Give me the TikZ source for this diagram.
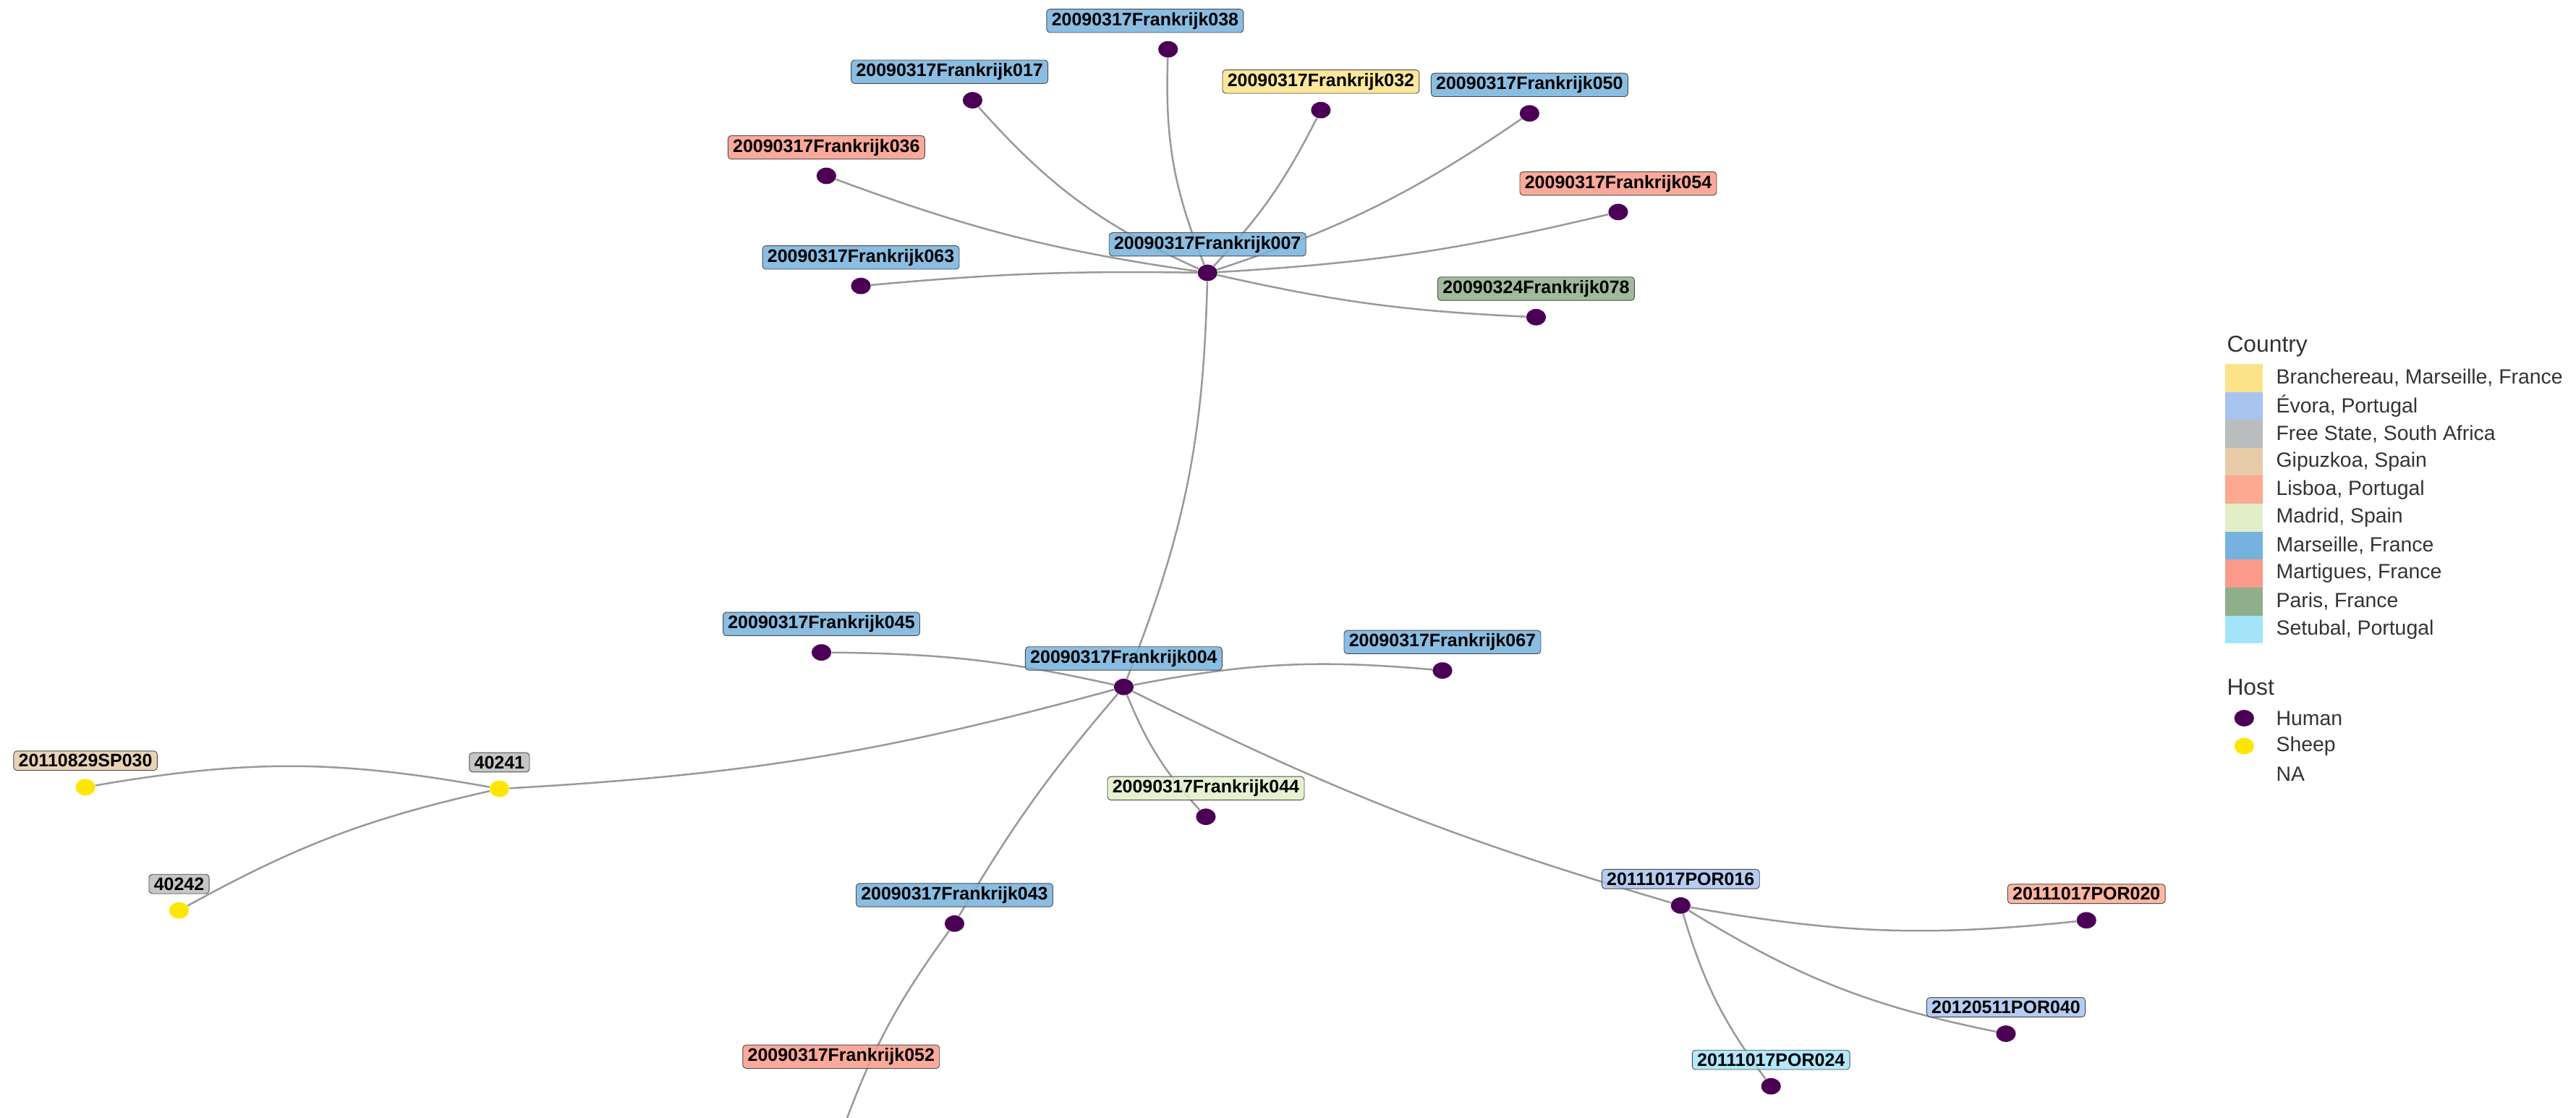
\documentclass[tikz,border=0pt]{standalone}
\usepackage{fontspec}
\setmainfont{Liberation Sans}
\usetikzlibrary{positioning,shapes.geometric}
\definecolor{cMars}{HTML}{75B2DD}
\definecolor{cMart}{HTML}{FA9A8A}
\definecolor{cLis}{HTML}{FCA990}
\definecolor{cBran}{HTML}{FCE38A}
\definecolor{cEvo}{HTML}{A8C4F0}
\definecolor{cFree}{HTML}{BBBCBE}
\definecolor{cGip}{HTML}{E6CBA8}
\definecolor{cMad}{HTML}{E2EEC8}
\definecolor{cPar}{HTML}{8FAF8A}
\definecolor{cSet}{HTML}{A3E4F9}
\definecolor{human}{HTML}{4B0055}
\definecolor{sheep}{HTML}{FFE600}
\tikzset{
	hum/.style={ellipse,fill=human,minimum width=12pt,minimum height=10pt,inner sep=0pt},
	shp/.style={ellipse,fill=sheep,minimum width=12pt,minimum height=10pt,inner sep=0pt},
	lab/.style={draw=black!70,fill=#1,fill opacity=0.85,text opacity=1,rounded corners=2pt,
		font=\bfseries\fontsize{11}{12}\selectfont,inner xsep=3pt,inner ysep=2pt,above=10pt},
	edge/.style={draw=black!40,line width=1.1pt},
	swatch/.style={fill=#1,minimum width=23pt,minimum height=17pt,inner sep=0pt},
	leg/.style={font=\fontsize{12.5}{13}\selectfont,anchor=west,text=black!80}
}
\begin{document}
\begin{tikzpicture}[x=1pt,y=-1pt]
\useasboundingbox (0,0) rectangle (1568,680);
\clip (0,0) rectangle (1568,680);

%Sommets
\node[hum] (n007) at (735,166) {};
\node[hum] (n038) at (711,30) {};
\node[hum] (n017) at (592,61) {};
\node[hum] (n032) at (804,67) {};
\node[hum] (n050) at (931,69) {};
\node[hum] (n036) at (503,107) {};
\node[hum] (n054) at (985,129) {};
\node[hum] (n063) at (524,174) {};
\node[hum] (n078) at (935,193) {};
\node[hum] (n004) at (684,418) {};
\node[hum] (n045) at (500,397) {};
\node[hum] (n067) at (878,408) {};
\node[hum] (n044) at (734,497) {};
\node[hum] (n043) at (581,562) {};
\coordinate (n052) at (512,690);
\node[shp] (n241) at (304,480) {};
\node[shp] (n030) at (52,479) {};
\node[shp] (n242) at (109,554) {};
\node[hum] (p016) at (1023,551) {};
\node[hum] (p020) at (1270,560) {};
\node[hum] (p040) at (1221,629) {};
\node[hum] (p024) at (1078,661) {};

%Aretes
\draw[edge] (n007) to[bend left=12] (n038);
\draw[edge] (n007) to[bend left=12] (n017);
\draw[edge] (n007) to[bend right=8] (n032);
\draw[edge] (n007) to[bend right=8] (n050);
\draw[edge] (n007) to[bend left=6] (n036);
\draw[edge] (n007) to[bend right=5] (n054);
\draw[edge] (n007) to[bend right=3] (n063);
\draw[edge] (n007) to[bend right=5] (n078);
\draw[edge] (n007) to[bend left=10] (n004);
\draw[edge] (n004) to[bend right=6] (n045);
\draw[edge] (n004) to[bend left=8] (n067);
\draw[edge] (n004) to[bend right=10] (n044);
\draw[edge] (n004) to[bend right=5] (n043);
\draw[edge] (n004) to[bend left=6] (n241);
\draw[edge] (n004) to[bend right=5] (p016);
\draw[edge] (n043) to[bend right=8] (n052);
\draw[edge] (n241) to[bend right=10] (n030);
\draw[edge] (n241) to[bend right=8] (n242);
\draw[edge] (p016) to[bend right=8] (p020);
\draw[edge] (p016) to[bend right=10] (p040);
\draw[edge] (p016) to[bend right=10] (p024);

%Etiquettes
\node[lab=cMars] at (n007) {20090317Frankrijk007};
\node[lab=cMars,xshift=-14pt] at (n038) {20090317Frankrijk038};
\node[lab=cMars,xshift=-14pt] at (n017) {20090317Frankrijk017};
\node[lab=cBran] at (n032) {20090317Frankrijk032};
\node[lab=cMars] at (n050) {20090317Frankrijk050};
\node[lab=cMart] at (n036) {20090317Frankrijk036};
\node[lab=cMart] at (n054) {20090317Frankrijk054};
\node[lab=cMars] at (n063) {20090317Frankrijk063};
\node[lab=cPar] at (n078) {20090324Frankrijk078};
\node[lab=cMars] at (n004) {20090317Frankrijk004};
\node[lab=cMars] at (n045) {20090317Frankrijk045};
\node[lab=cMars] at (n067) {20090317Frankrijk067};
\node[lab=cMad] at (n044) {20090317Frankrijk044};
\node[lab=cMars] at (n043) {20090317Frankrijk043};
\node[lab=cMart,anchor=center] at (512,653) {20090317Frankrijk052};
\node[lab=cFree] at (n241) {40241};
\node[lab=cGip] at (n030) {20110829SP030};
\node[lab=cFree] at (n242) {40242};
\node[lab=cEvo] at (p016) {20111017POR016};
\node[lab=cLis] at (p020) {20111017POR020};
\node[lab=cEvo] at (p040) {20120511POR040};
\node[lab=cSet] at (p024) {20111017POR024};

%Legende
\node[font=\fontsize{14}{15}\selectfont,anchor=west,text=black!80] (tcountry) at (1352,211) {Country};
\foreach \c/\t [count=\i] in {cBran/{Branchereau, Marseille, France},cEvo/{Évora, Portugal},
	cFree/{Free State, South Africa},cGip/{Gipuzkoa, Spain},cLis/{Lisboa, Portugal},
	cMad/{Madrid, Spain},cMars/{Marseille, France},cMart/{Martigues, France},
	cPar/{Paris, France},cSet/{Setubal, Portugal}}{
	\node[swatch=\c] (sw\i) at (1366,213+17*\i) {};
	\node[leg] at (1382,213+17*\i) {\t};
}
\node[font=\fontsize{14}{15}\selectfont,anchor=west,text=black!80] (thost) at (1352,418) {Host};
\node[hum] (khum) at (1366,437) {};
\node[leg] at (1382,437) {Human};
\node[shp] (kshp) at (1366,454) {};
\node[leg] at (1382,454) {Sheep};
\node[leg] at (1382,471) {NA};
\end{tikzpicture}
\end{document}
